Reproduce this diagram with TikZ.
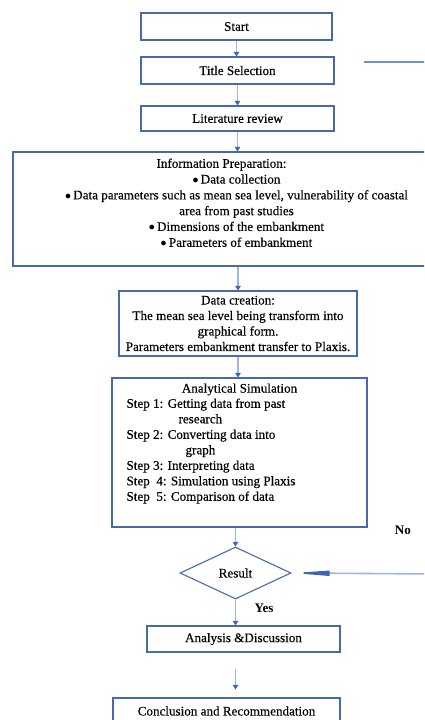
\documentclass[tikz,border=0pt]{standalone}
\usepackage{fontspec}
\setmainfont{Liberation Serif}[UprightFeatures={FakeBold=0.3}]
\usetikzlibrary{shapes.geometric, arrows.meta}

\definecolor{boxblue}{RGB}{72,106,170}
\definecolor{lineblue}{RGB}{160,182,222}
\definecolor{tipblue}{RGB}{60,100,185}
\definecolor{loopblue}{RGB}{110,145,205}

\begin{document}
\begin{tikzpicture}[x=1pt, y=-1pt,
    font=\fontsize{13.1}{15.5}\selectfont,
    box/.style={draw=boxblue, line width=1.1pt, rectangle, inner sep=2pt},
    choice/.style={draw=boxblue, line width=1.1pt, diamond, aspect=2.1, inner sep=0pt},
    link/.style={lineblue, line width=1.4pt, -{Triangle[length=4.5pt, width=5.5pt, color=tipblue]}},
    loopline/.style={loopblue, line width=1.2pt}]
    \useasboundingbox (0,0) rectangle (424,720);
    \clip (0,0) rectangle (424,720);

    % Blocchi principali
    \node[box, minimum width=191pt, minimum height=27pt] (start) at (236.5, 26.5) {Start};
    \node[box, minimum width=193pt, minimum height=27pt] (title) at (237.5, 70.5) {Title Selection};
    \node[box, minimum width=193pt, minimum height=25pt] (lit) at (237.5, 118.5) {Literature review};

    % Preparazione dati
    \node[box, minimum width=447pt, minimum height=114pt] (info) at (236.5, 209) {};
    \node[anchor=north, align=center, font=\fontsize{13.1}{15.8}\selectfont] (infotext) at (236.5, 155) {%
        Information Preparation:\hspace*{30pt}\\
        $\bullet$\,Data collection\\
        $\bullet$\,Data parameters such as mean sea level, vulnerability of coastal\\
        area from past studies\\
        $\bullet$\,Dimensions of the embankment\\
        $\bullet$\,Parameters of embankment};

    \node[box, minimum width=238pt, minimum height=65pt, align=center] (data) at (238, 323.5) {%
        Data creation:\\
        The mean sea level being transform into\\
        graphical form.\\
        Parameters embankment transfer to Plaxis.};

    % Simulazione
    \node[box, minimum width=255pt, minimum height=149pt] (sim) at (239.5, 452.5) {};
    \node[anchor=north] (simtitle) at (239.5, 380) {Analytical Simulation};
    \node[anchor=north west, align=left] (simsteps) at (123, 395) {%
        Step 1: Getting data from past\\
        \hspace*{52pt}research\\
        Step 2: Converting data into\\
        \hspace*{59pt}graph\\
        Step 3: Interpreting data\\
        Step\ \ 4: Simulation using Plaxis\\
        Step\ \ 5: Comparison of data};

    % Decisione e chiusura
    \node[choice, minimum width=111pt, minimum height=52pt] (result) at (235.5, 573) {Result};
    \node[box, minimum width=193pt, minimum height=26pt] (analysis) at (243.5, 639) {Analysis \&Discussion};
    \node[box, minimum width=227pt, minimum height=26pt] (concl) at (226.5, 711) {Conclusion and Recommendation};

    \node[font=\fontsize{13.1}{15.5}\selectfont\bfseries] (yes) at (264, 608) {Yes};
    \node[font=\fontsize{13.1}{15.5}\selectfont\bfseries] (no) at (403, 530) {No};

    % Frecce
    \draw[link] (start.south) -- (start.south |- title.north);
    \draw[link] (title.south) -- (title.south |- lit.north);
    \draw[link] (lit.south) -- (lit.south |- info.north);
    \draw[link] (data.north |- info.south) -- (data.north);
    \draw[link] (data.south) -- (data.south |- sim.north);
    \draw[link] (result.north |- sim.south) -- (result.north);
    \draw[link] (result.south) -- (result.south |- analysis.north);
    \draw[link, shorten <=16pt, shorten >=8pt] (result.south |- analysis.south) -- (result.south |- concl.north);

    % Ritorno (No)
    \coordinate (loopa) at (364, 62);
    \coordinate (loopb) at (440, 62);
    \coordinate (loopc) at (440, 574);
    \draw[loopline] (loopa) -- (loopb);
    \draw[loopline, lineblue, line width=1.6pt, -{Triangle[length=38pt, width=5pt, color=tipblue]}] (loopc) -- (result.east);
\end{tikzpicture}
\end{document}
